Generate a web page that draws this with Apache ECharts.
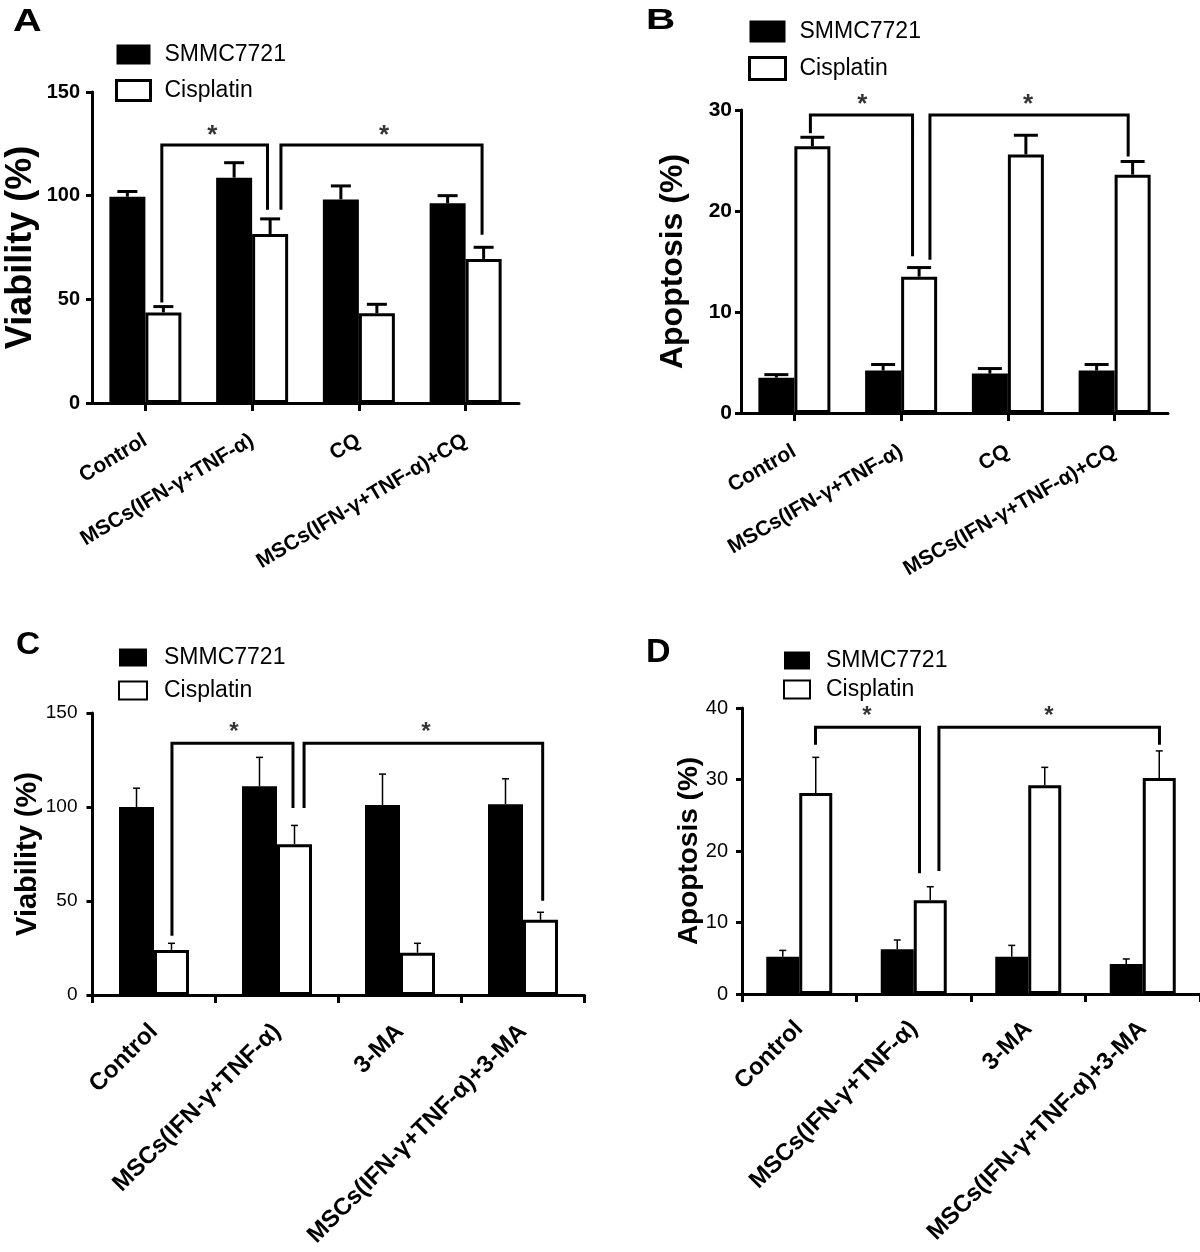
<!DOCTYPE html>
<html><head><meta charset="utf-8">
<script src="https://cdn.jsdelivr.net/npm/echarts@6/dist/echarts.min.js"></script>
<style>html,body{margin:0;padding:0;background:#fff}#c{width:1200px;height:1252px}</style>
</head><body><div id="c"></div>
<script>
// ---------------- DATA ----------------
const catsAB = ['Control', 'MSCs(IFN-γ+TNF-α)', 'CQ', 'MSCs(IFN-γ+TNF-α)+CQ'];
const catsCD = ['Control', 'MSCs(IFN-γ+TNF-α)', '3-MA', 'MSCs(IFN-γ+TNF-α)+3-MA'];
const seriesNames = ['SMMC7721', 'Cisplatin'];

const viabA_smmc = [99.5, 108.7, 98.2, 96.3];
const viabA_smmcErr = [2.5, 7.2, 6.5, 3.7];
const viabA_cis = [43.7, 81.5, 43.3, 69.5];
const viabA_cisErr = [2.8, 7.3, 4.3, 5.6];

const apopB_smmc = [3.5, 4.2, 3.9, 4.2];
const apopB_smmcErr = [0.3, 0.6, 0.5, 0.6];
const apopB_cis = [26.4, 13.5, 25.6, 23.6];
const apopB_cisErr = [0.9, 0.9, 1.9, 1.3];

const viabC_smmc = [100, 111, 101, 101.5];
const viabC_smmcErr = [10, 15.4, 16.5, 13.5];
const viabC_cis = [24, 80.2, 22.5, 40];
const viabC_cisErr = [3.5, 10, 5, 4];

const apopD_smmc = [5.2, 6.25, 5.2, 4.2];
const apopD_smmcErr = [0.9, 1.3, 1.6, 0.7];
const apopD_cis = [28.1, 13.1, 29.2, 30.2];
const apopD_cisErr = [5.0, 1.9, 2.5, 3.8];

// significance brackets, points as [category position, value]
const bracketsA = [
  [[0.154, 49.2], [0.154, 124.4], [1.144, 124.4], [1.144, 93.9]],
  [[1.27, 93.9], [1.27, 124.4], [3.154, 124.4], [3.154, 81.9]]
];
const starsA = [[0.627, 128.8], [2.236, 128.8]];

const bracketsB = [
  [[0.15, 27.85], [0.15, 29.5], [1.107, 29.5], [1.107, 15.66]],
  [[1.27, 15.33], [1.27, 29.5], [3.127, 29.5], [3.127, 25.55]]
];
const starsB = [[0.636, 30.5], [2.19, 30.5]];

const bracketsC = [
  [[0.146, 32.3], [0.146, 133.9], [1.13, 133.9], [1.13, 100.2]],
  [[1.22, 100.2], [1.22, 133.9], [3.16, 133.9], [3.16, 50.9]]
];
const starsC = [[0.65, 139.5], [2.21, 139.5]];

const bracketsD = [
  [[0.142, 35.06], [0.142, 37.3], [1.05, 37.3], [1.05, 17.1]],
  [[1.22, 17.4], [1.22, 37.3], [3.146, 37.3], [3.146, 35.06]]
];
const starsD = [[0.59, 38.8], [2.18, 38.8]];

// ---------------- LAYOUT / STYLE ----------------
const FONT = '"Liberation Sans", Arial, Helvetica, sans-serif';

const panels = [
  { letter: 'A', lx: 13, ly: 22, lfs: 31, lsx: 1.28,
    cats: catsAB, s1: viabA_smmc, e1: viabA_smmcErr, s2: viabA_cis, e2: viabA_cisErr,
    brackets: bracketsA, stars: starsA, starFs: 26,
    yName: 'Viability (%)', yMax: 150, yInt: 50, nameFs: 36, nameGap: 53,
    tickFs: 20, tickW: 'bold', tickMargin: 12,
    grid: { left: 92, top: 92, width: 427, height: 311 },
    barW: 36, errW: 3, cap: 10, borderW: 3, boundaryTicks: false,
    xRot: 31, xFs: 21, xMargin: 36,
    legend: { left: 115, top: 43, iw: 34, ih: 20, gap: 13, bw: 3, pad: 9 } },
  { letter: 'B', lx: 646, ly: 21, lfs: 30, lsx: 1.35,
    cats: catsAB, s1: apopB_smmc, e1: apopB_smmcErr, s2: apopB_cis, e2: apopB_cisErr,
    brackets: bracketsB, stars: starsB, starFs: 26,
    yName: 'Apoptosis (%)', yMax: 30, yInt: 10, nameFs: 32, nameGap: 52,
    tickFs: 21, tickW: 'bold', tickMargin: 9,
    grid: { left: 741, top: 110, width: 427, height: 303 },
    barW: 36, errW: 3, cap: 12, borderW: 3, boundaryTicks: false,
    xRot: 30, xFs: 21, xMargin: 37,
    legend: { left: 748, top: 20, iw: 36, ih: 22, gap: 13, bw: 3, pad: 9 } },
  { letter: 'C', lx: 16, ly: 645, lfs: 31, lsx: 1.08,
    cats: catsCD, s1: viabC_smmc, e1: viabC_smmcErr, s2: viabC_cis, e2: viabC_cisErr,
    brackets: bracketsC, stars: starsC, starFs: 24,
    yName: 'Viability (%)', yMax: 150, yInt: 50, nameFs: 29, nameGap: 50,
    tickFs: 19, tickW: 'normal', tickMargin: 15,
    grid: { left: 92.5, top: 713, width: 492, height: 282 },
    barW: 35, errW: 1.5, cap: 3.5, borderW: 3, boundaryTicks: true,
    xRot: 45, xFs: 24, xMargin: 33,
    legend: { left: 118, top: 646, iw: 28, ih: 18, gap: 10, bw: 2, pad: 12 } },
  { letter: 'D', lx: 646, ly: 653, lfs: 34, lsx: 1.0,
    cats: catsCD, s1: apopD_smmc, e1: apopD_smmcErr, s2: apopD_cis, e2: apopD_cisErr,
    brackets: bracketsD, stars: starsD, starFs: 24,
    yName: 'Apoptosis (%)', yMax: 40, yInt: 10, nameFs: 28, nameGap: 39,
    tickFs: 20, tickW: 'normal', tickMargin: 14,
    grid: { left: 742, top: 708, width: 458, height: 286 },
    barW: 33, errW: 1.5, cap: 3.5, borderW: 3, boundaryTicks: true,
    xRot: 45, xFs: 24, xMargin: 31,
    legend: { left: 783, top: 649, iw: 26, ih: 18, gap: 6, bw: 2, pad: 11 } }
];

const option = { animation: false, backgroundColor: '#fff',
  grid: [], xAxis: [], yAxis: [], series: [], legend: [], graphic: [] };

function errSeries(g, vals, errs, sign, p) {
  return {
    type: 'custom', xAxisIndex: 2 * g + 1, yAxisIndex: g, z: 5, silent: true, clip: false,
    data: vals.map((v, i) => [i, v, errs[i]]),
    renderItem: function (params, api) {
      const i = api.value(0), v = api.value(1), e = api.value(2);
      const b = api.coord([i, v]);
      const t = api.coord([i, v + e]);
      const x = b[0] + sign * p.barW / 2;
      return { type: 'group', children: [
        { type: 'line', shape: { x1: x, y1: b[1], x2: x, y2: t[1] }, style: { stroke: '#000', lineWidth: p.errW } },
        { type: 'line', shape: { x1: x - p.cap, y1: t[1], x2: x + p.cap, y2: t[1] }, style: { stroke: '#000', lineWidth: p.errW } }
      ] };
    }
  };
}

panels.forEach((p, g) => {
  option.grid.push(Object.assign({ outerBoundsMode: 'none', containLabel: false }, p.grid));
  option.xAxis.push({
    type: 'category', gridIndex: g, data: p.cats, boundaryGap: true,
    axisLine: { show: true, onZero: false, lineStyle: { color: '#000', width: 3 } },
    axisTick: { show: true, alignWithLabel: !p.boundaryTicks, interval: 0, length: 8, lineStyle: { color: '#000', width: 3 } },
    axisLabel: { interval: 0, rotate: p.xRot, margin: p.xMargin, color: '#000', fontWeight: 'bold', fontSize: p.xFs, fontFamily: FONT, hideOverlap: false },
    splitLine: { show: false }
  });
  option.xAxis.push({ type: 'value', gridIndex: g, min: -0.5, max: 3.5, show: false,
    axisLine: { onZero: false }, splitLine: { show: false } });
  option.yAxis.push({
    type: 'value', gridIndex: g, min: 0, max: p.yMax, interval: p.yInt,
    axisLine: { show: true, onZero: false, lineStyle: { color: '#000', width: 3 } },
    axisTick: { show: true, length: 6, lineStyle: { color: '#000', width: 3 } },
    splitLine: { show: false },
    axisLabel: { color: '#000', fontSize: p.tickFs, fontWeight: p.tickW, margin: p.tickMargin, fontFamily: FONT },
    name: p.yName, nameLocation: 'middle', nameGap: p.nameGap, nameRotate: 90, nameMoveOverlap: false,
    nameTextStyle: { color: '#000', fontSize: p.nameFs, fontWeight: 'bold', fontFamily: FONT }
  });
  option.series.push({
    type: 'bar', name: seriesNames[0], xAxisIndex: 2 * g, yAxisIndex: g, data: p.s1,
    barWidth: p.barW, barGap: '0%', silent: true, z: 2,
    itemStyle: { color: '#000', borderWidth: 0 }
  });
  option.series.push({
    type: 'bar', name: seriesNames[1], xAxisIndex: 2 * g, yAxisIndex: g, data: p.s2,
    barWidth: p.barW, barGap: '0%', silent: true, z: 3,
    itemStyle: { color: '#fff', borderColor: '#000', borderWidth: p.borderW }
  });
  option.series.push(errSeries(g, p.s1, p.e1, -1, p));
  option.series.push(errSeries(g, p.s2, p.e2, 1, p));
  p.brackets.forEach(br => {
    option.series.push({
      type: 'line', xAxisIndex: 2 * g + 1, yAxisIndex: g, data: br, symbol: 'none', silent: true, z: 6, clip: false,
      lineStyle: { color: '#000', width: 3, cap: 'square', join: 'miter' }
    });
  });
  option.series.push({
    type: 'scatter', xAxisIndex: 2 * g + 1, yAxisIndex: g, data: p.stars, symbolSize: 1, silent: true, z: 7, clip: false,
    itemStyle: { color: 'rgba(0,0,0,0)' },
    label: { show: true, position: 'inside', formatter: '*', color: '#000', fontSize: p.starFs, fontWeight: 'bold', fontFamily: FONT }
  });
  const L = p.legend;
  option.legend.push({
    left: L.left, top: L.top, orient: 'vertical', icon: 'rect', selectedMode: false,
    itemWidth: L.iw, itemHeight: L.ih, itemGap: L.gap, padding: 0,
    textStyle: { fontSize: 23, color: '#000', fontFamily: FONT, padding: [0, 0, 0, L.pad] },
    data: [
      { name: seriesNames[0], itemStyle: { color: '#000', borderWidth: 0 } },
      { name: seriesNames[1], itemStyle: { color: '#fff', borderColor: '#000', borderWidth: L.bw } }
    ]
  });
  option.graphic.push({
    type: 'text', x: p.lx, y: p.ly, scaleX: p.lsx, silent: true,
    style: { text: p.letter, fill: '#000', fontSize: p.lfs, fontWeight: 'bold', fontFamily: FONT, verticalAlign: 'middle', align: 'left' }
  });
});

const chart = echarts.init(document.getElementById('c'), null, { renderer: 'canvas' });
chart.setOption(option);
</script>
</body></html>
